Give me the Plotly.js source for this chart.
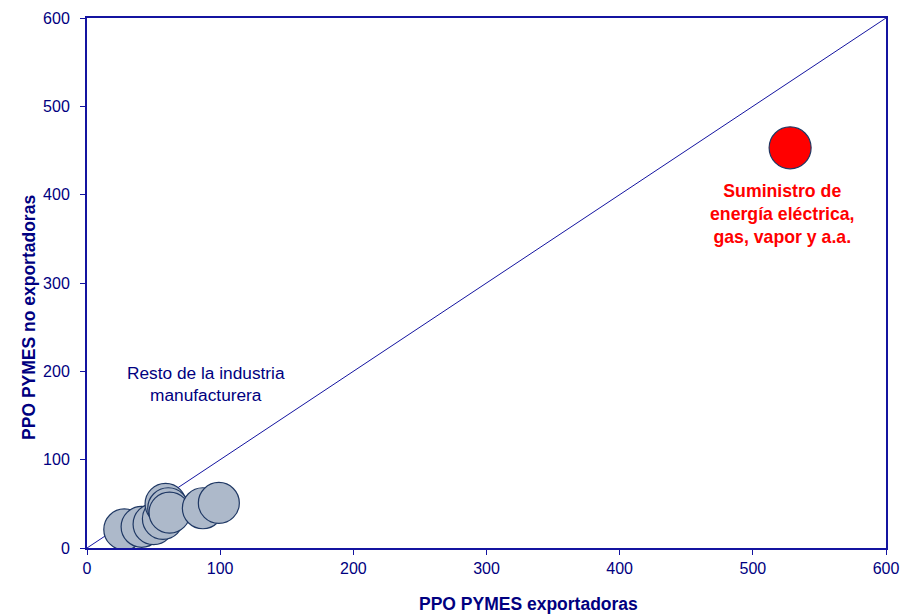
<!DOCTYPE html>
<html>
<head>
<meta charset="utf-8">
<script src="https://cdn.plot.ly/plotly-3.0.1.min.js"></script>
<style>html,body{margin:0;padding:0;background:#fff;}#chart{width:917px;height:614px;}</style>
</head>
<body>
<div id="chart"></div>
<script>
// Resto de la industria manufacturera (PPO exportadoras vs no exportadoras)
var restoX = [28, 41, 50, 57, 59, 61, 62, 87, 99];
var restoY = [21, 24, 27, 33, 50, 45, 40, 45, 51];
// Suministro de energía eléctrica, gas, vapor y a.a.
var energiaX = [528];
var energiaY = [453];
// 45-degree reference line
var diagX = [0, 600];
var diagY = [0, 600];
var tickVals = [0, 100, 200, 300, 400, 500, 600];

var navy = '#000080';
var lineBlue = '#1414a0';
var font = 'Liberation Sans, Arial, sans-serif';

var traces = [
  {x: diagX, y: diagY, mode: 'lines', line: {color: lineBlue, width: 1}, hoverinfo: 'skip', showlegend: false},
  {x: restoX, y: restoY, mode: 'markers', showlegend: false,
   marker: {size: 41, color: '#adb9ca', line: {color: '#1f3864', width: 1.2}}},
  {x: energiaX, y: energiaY, mode: 'markers', showlegend: false,
   marker: {size: 42, color: '#ff0000', line: {color: '#1f3864', width: 1.2}}}
];

function axis(standoff) {
  return {
    range: [0, 600], tickvals: tickVals, showgrid: false, zeroline: false,
    showline: true, linecolor: lineBlue, linewidth: 2, mirror: true,
    ticks: 'outside', ticklen: 5, tickcolor: lineBlue, tickwidth: 1,
    ticklabelstandoff: standoff,
    tickfont: {family: font, size: 16, color: navy}
  };
}

var layout = {
  width: 917, height: 614,
  margin: {l: 87, r: 31, t: 18, b: 66},
  paper_bgcolor: '#fff', plot_bgcolor: '#fff',
  xaxis: axis(0),
  yaxis: axis(7),
  annotations: [
    {text: '<b>PPO PYMES exportadoras</b>', xref: 'paper', yref: 'paper', x: 0.553, y: -0.106,
     xanchor: 'center', yanchor: 'middle', showarrow: false, font: {family: font, size: 17.5, color: navy}},
    {text: '<b>PPO PYMES no exportadoras</b>', xref: 'paper', yref: 'paper', x: -0.0726, y: 0.436,
     xanchor: 'center', yanchor: 'middle', textangle: -90, showarrow: false, font: {family: font, size: 17.5, color: navy}},
    {text: 'Resto de la industria<br>manufacturera', xref: 'x', yref: 'y', x: 89.4, y: 186,
     xanchor: 'center', yanchor: 'middle', showarrow: false, font: {family: font, size: 17.3, color: navy}},
    {text: '<b>Suministro de<br>energía eléctrica,<br>gas, vapor y a.a.</b>', xref: 'x', yref: 'y', x: 522.6, y: 378,
     xanchor: 'center', yanchor: 'middle', showarrow: false, font: {family: font, size: 17.7, color: '#ff0000'}}
  ]
};

Plotly.newPlot('chart', traces, layout, {displayModeBar: false, staticPlot: true});
</script>
</body>
</html>
